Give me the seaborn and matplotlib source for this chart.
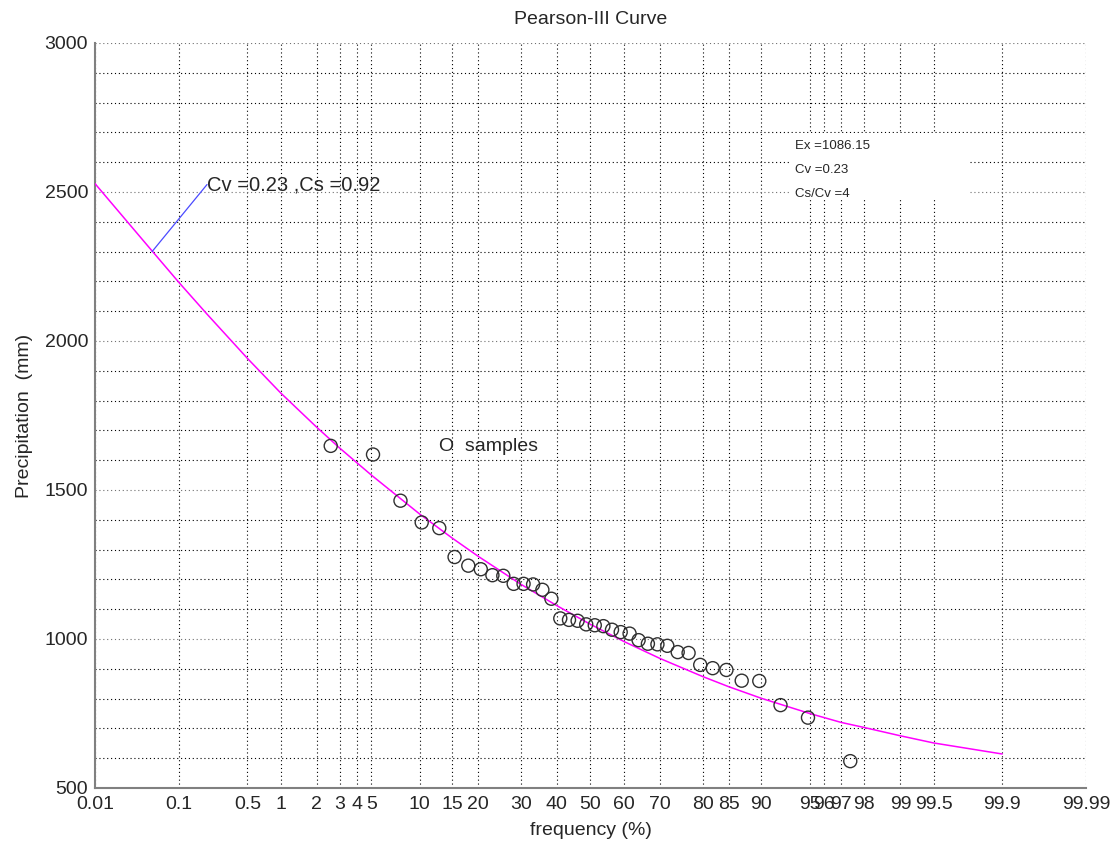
import numpy as np
import pandas as pd
import matplotlib
matplotlib.use('Agg')
import matplotlib.pyplot as plt
from matplotlib.patches import Rectangle
from statistics import NormalDist
import seaborn as sns

# sample points (frequency %, precipitation mm)
sample_freq = [2.56, 5.13, 7.69, 10.26, 12.82, 15.38, 17.95, 20.51, 23.08, 25.64,
               28.21, 30.77, 33.33, 35.90, 38.46, 41.03, 43.59, 46.15, 48.72, 51.28,
               53.85, 56.41, 58.97, 61.54, 64.10, 66.67, 69.23, 71.79, 74.36, 76.92,
               79.49, 82.05, 84.62, 87.18, 89.74, 92.31, 94.87, 97.44]
sample_prec = [1648, 1619, 1464, 1391, 1372, 1275, 1246, 1234, 1214, 1212,
               1185, 1185, 1183, 1165, 1135, 1069, 1064, 1061, 1049, 1046,
               1043, 1031, 1023, 1018, 996, 984, 982, 977, 956, 953,
               913, 902, 896, 860, 859, 778, 736, 590]

# Pearson-III curve
curve_freq = [0.01, 0.05, 0.1, 0.2, 0.5, 1, 2, 3, 5, 10, 15, 20, 30, 40, 50,
              60, 70, 80, 85, 90, 95, 97, 98, 99, 99.5, 99.9]
curve_prec = [2528, 2302, 2197, 2090, 1942, 1826, 1710, 1640, 1550, 1419, 1338,
              1277, 1184, 1112, 1049, 991, 934, 874, 840, 801, 750, 720, 703, 675, 651, 614]

tick_freq = [0.01, 0.1, 0.5, 1, 2, 3, 4, 5, 10, 15, 20, 30, 40, 50, 60, 70, 80, 85,
             90, 95, 96, 97, 98, 99, 99.5, 99.9, 99.99]
tick_labels = ['0.01', '0.1', '0.5', '1', '2', '3', '4', '5', '10', '15', '20', '30',
               '40', '50', '60', '70', '80', '85', '90', '95', '96', '97', '98', '99',
               '99.5', '99.9', '99.99']

Ex, Cv, Cs = 1086.15, 0.23, 0.92

nd = NormalDist()


def fwd(p):
    p = np.clip(np.asarray(p, dtype=float) / 100.0, 1e-9, 1 - 1e-9)
    return np.array([nd.inv_cdf(v) for v in p.ravel()]).reshape(p.shape)


def inv(z):
    z = np.asarray(z, dtype=float)
    return np.array([nd.cdf(v) * 100.0 for v in z.ravel()]).reshape(z.shape)


sns.set_style('white')
plt.rcParams['font.family'] = ['Liberation Sans', 'DejaVu Sans']
plt.rcParams['font.size'] = 14

fig = plt.figure(figsize=(11.19, 8.46), dpi=100)
ax = fig.add_axes([0.0849, 0.0686, 0.8856, 0.8806])
ax.set_xscale('function', functions=(fwd, inv))
ax.set_xlim(0.01, 99.99)
ax.set_ylim(500, 3000)

samples = pd.DataFrame({'freq': sample_freq, 'prec': sample_prec})
curve = pd.DataFrame({'freq': curve_freq, 'prec': curve_prec})

sns.lineplot(data=curve, x='freq', y='prec', ax=ax, color='#ff00ff', lw=1.1,
             sort=False, estimator=None, zorder=3)
sns.scatterplot(data=samples, x='freq', y='prec', ax=ax, marker='o', s=88,
                facecolors='none', edgecolor='#303030', linewidth=1, zorder=4)

ax.set_xticks(tick_freq)
ax.set_xticklabels(tick_labels)
ax.set_yticks(np.arange(500, 3001, 500))
ax.set_yticks(np.arange(500, 3001, 100), minor=True)
ax.tick_params(axis='both', which='major', direction='in', length=9, width=1,
               color='black', labelsize=14)
ax.tick_params(axis='x', pad=6)
ax.tick_params(axis='y', pad=5)
ax.tick_params(axis='y', which='minor', length=0)

ax.grid(True, axis='x', which='major', color='black', linestyle=(0, (1, 2.5)), lw=0.8)
ax.grid(True, axis='y', which='minor', color='black', linestyle=(0, (1, 2.5)), lw=0.8)
ax.grid(True, axis='y', which='major', color='#707070', linestyle=(0, (1, 2.5)), lw=0.8)
ax.set_axisbelow(True)

for s in ['top', 'right']:
    ax.spines[s].set_visible(False)
for s in ['left', 'bottom']:
    ax.spines[s].set_color('#808080')
    ax.spines[s].set_linewidth(1.5)

ax.set_title('Pearson-III Curve', fontsize=14, pad=14)
ax.set_xlabel('frequency (%)', fontsize=14, labelpad=6)
ax.set_ylabel('Precipitation  (mm)', fontsize=14, labelpad=8)

# annotation of parameters
ax.plot([0.05, 0.2], [2300, 2525], color='#4a4aff', lw=0.9, zorder=3)
ax.text(0.2, 2525, 'Cv =%.2f ,Cs =%.2f' % (Cv, Cs), fontsize=14.5, ha='left', va='center')

ax.text(12.7, 1645, 'O  samples', fontsize=14, ha='left', va='center')

# stats box
ax.add_patch(Rectangle((0.701, 0.789), 0.182, 0.09, transform=ax.transAxes,
                       facecolor='white', edgecolor='none', zorder=2))
box_lines = ['Ex =%.2f' % Ex, 'Cv =%.2f' % Cv, 'Cs/Cv =%d' % round(Cs / Cv)]
for i, t in enumerate(box_lines):
    ax.text(0.706, 0.862 - i * 0.0322, t, transform=ax.transAxes, fontsize=9.5,
            ha='left', va='center', zorder=5)

fig.savefig('out.png', dpi=100)
